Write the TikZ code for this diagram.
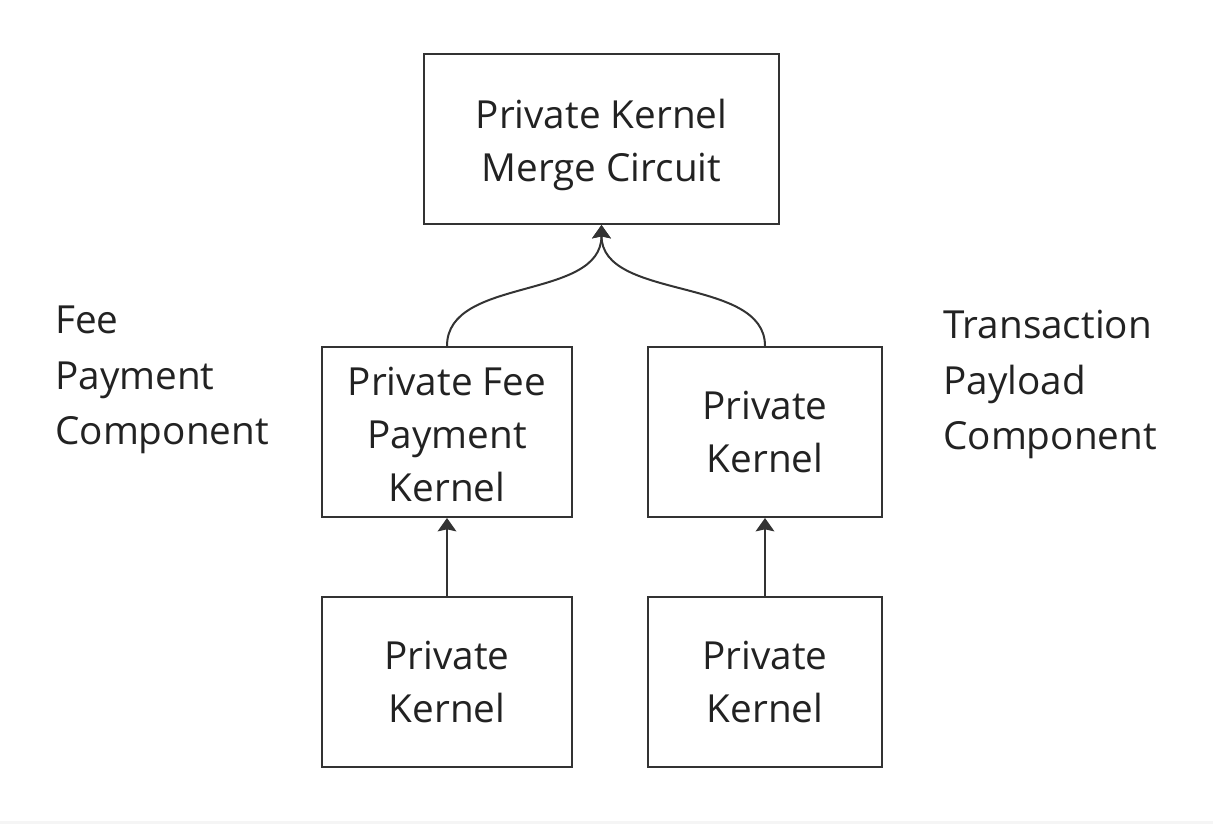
\documentclass[tikz,border=0pt]{standalone}
\usepackage{fontspec}
\setmainfont{Open Sans}
\usetikzlibrary{arrows.meta}
\definecolor{ink}{HTML}{222222}
\definecolor{edge}{HTML}{333333}
\begin{document}
\begin{tikzpicture}[x=0.75pt,y=-0.75pt,
  box/.style={draw=edge,line width=1.5pt,inner sep=0pt,align=center,text=ink,
    font=\fontsize{29}{39.75}\selectfont},
  boxtext/.style={inner sep=0pt,align=center,text=ink,
    font=\fontsize{29}{39.75}\selectfont},
  side/.style={inner sep=0pt,align=left,text=ink,anchor=north west,
    font=\fontsize{29}{41.6}\selectfont},
  arr/.style={draw=edge,line width=1.5pt,-{Stealth[length=10pt,width=14pt,inset=1.5pt]}}]
\path[use as bounding box] (0,0) rectangle (1213,824);
\fill[gray!8] (0,821) rectangle (1213,824);
\node[box,minimum width=355*0.75pt,minimum height=170*0.75pt] (merge) at (601.5,139) {};
\node[boxtext] (mergetext) at (601.5,145) {Private Kernel\\Merge Circuit};
\node[box,minimum width=250*0.75pt,minimum height=170*0.75pt] (fee) at (447,432) {};
\node[boxtext] (feetext) at (447,434) {Private Fee\\Payment\\Kernel};
\node[box,minimum width=234*0.75pt,minimum height=170*0.75pt] (pk) at (765,432) {Private\\Kernel};
\node[box,minimum width=250*0.75pt,minimum height=170*0.75pt] (pkfee) at (447,682) {Private\\Kernel};
\node[box,minimum width=234*0.75pt,minimum height=170*0.75pt] (pkpay) at (765,682) {Private\\Kernel};
\node[side] (feelbl) at (55,306) {Fee\\Payment\\Component};
\node[side] (paylbl) at (943,310) {Transaction\\Payload\\Component};
\draw[arr] (fee.north) .. controls +(0,-70) and +(0,76) .. (merge.south);
\draw[arr] (pk.north) .. controls +(0,-70) and +(0,76) .. (merge.south);
\draw[arr] (pkfee.north) -- (fee.south);
\draw[arr] (pkpay.north) -- (pk.south);
\end{tikzpicture}
\end{document}
